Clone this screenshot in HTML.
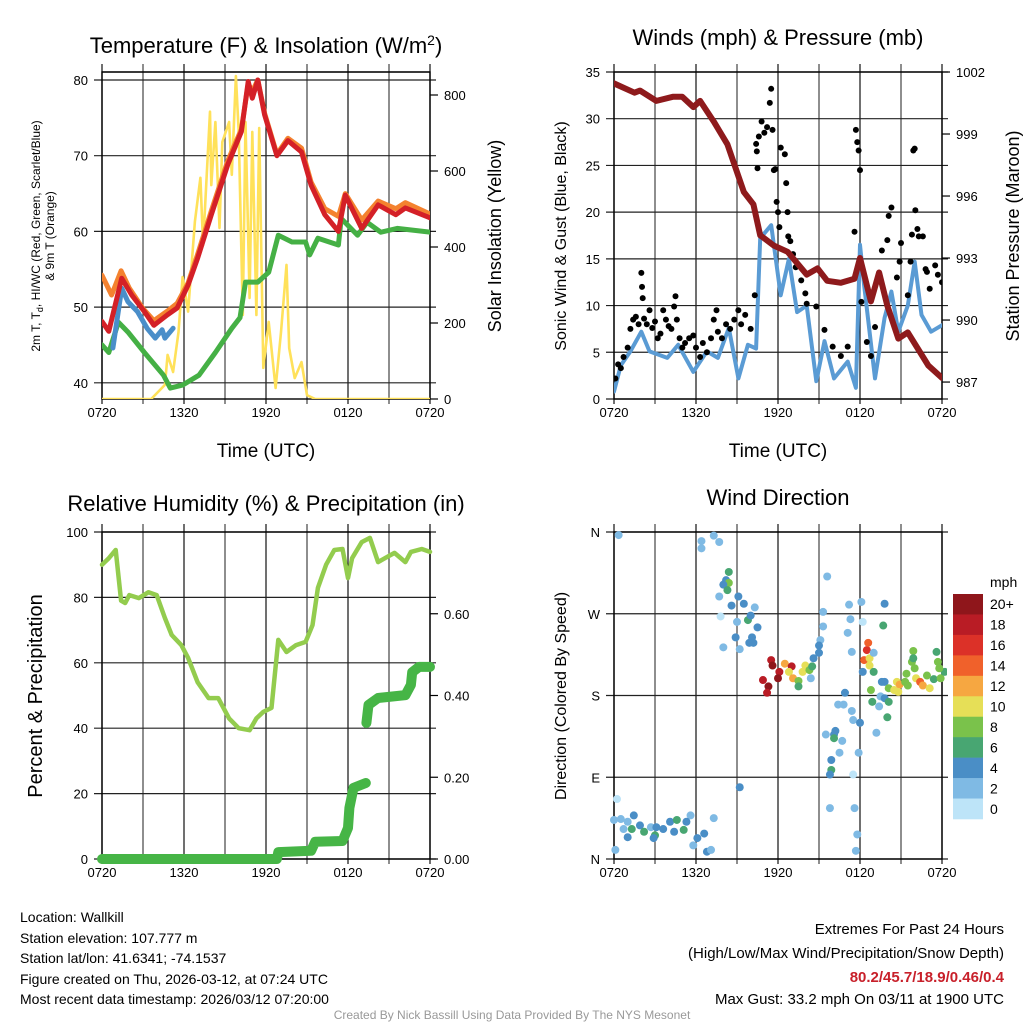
<!DOCTYPE html>
<html><head><meta charset="utf-8"><style>
html,body{margin:0;padding:0;background:#fff;}
svg{display:block;font-family:"Liberation Sans",sans-serif;}
</style></head><body>
<svg id="fig" width="1024" height="1024" viewBox="0 0 1024 1024" xmlns="http://www.w3.org/2000/svg">
<defs>
<clipPath id="c1"><rect x="102" y="72" width="328" height="327"/></clipPath>
<clipPath id="c2"><rect x="614" y="72" width="328" height="327"/></clipPath>
<clipPath id="c3"><rect x="97" y="527" width="338" height="337"/></clipPath>
<clipPath id="c4"><rect x="609" y="527" width="338" height="337"/></clipPath>
</defs>
<text x="266" y="53" font-size="22" text-anchor="middle">Temperature (F) &amp; Insolation (W/m<tspan dy="-8" font-size="14">2</tspan><tspan dy="8">)</tspan></text>
<text x="778" y="45" font-size="22" text-anchor="middle">Winds (mph) &amp; Pressure (mb)</text>
<text x="266" y="511" font-size="22" text-anchor="middle">Relative Humidity (%) &amp; Precipitation (in)</text>
<text x="778" y="505" font-size="22" text-anchor="middle">Wind Direction</text>

<text transform="translate(40,236) rotate(-90)" font-size="12" text-anchor="middle">2m T, T<tspan dy="3" font-size="9">d</tspan><tspan dy="-3">, HI/WC (Red, Green, Scarlet/Blue)</tspan></text>
<text transform="translate(54,236) rotate(-90)" font-size="12" text-anchor="middle">&amp; 9m T (Orange)</text>
<text transform="translate(501,236) rotate(-90)" font-size="18" text-anchor="middle">Solar Insolation (Yellow)</text>
<text transform="translate(566,236) rotate(-90)" font-size="16" text-anchor="middle">Sonic Wind &amp; Gust (Blue, Black)</text>
<text transform="translate(1019,236) rotate(-90)" font-size="18" text-anchor="middle">Station Pressure (Maroon)</text>
<text transform="translate(42,696) rotate(-90)" font-size="20" text-anchor="middle">Percent &amp; Precipitation</text>
<text transform="translate(566,696) rotate(-90)" font-size="16" text-anchor="middle">Direction (Colored By Speed)</text>
<text x="266" y="457" font-size="19" text-anchor="middle">Time (UTC)</text>
<text x="778" y="457" font-size="19" text-anchor="middle">Time (UTC)</text>

<g font-size="14">
<text x="20" y="922">Location: Wallkill</text>
<text x="20" y="943">Station elevation: 107.777 m</text>
<text x="20" y="963">Station lat/lon: 41.6341; -74.1537</text>
<text x="20" y="984">Figure created on Thu, 2026-03-12, at 07:24 UTC</text>
<text x="20" y="1004">Most recent data timestamp: 2026/03/12 07:20:00</text>
</g>
<g font-size="15" text-anchor="end">
<text x="1004" y="934">Extremes For Past 24 Hours</text>
<text x="1004" y="958">(High/Low/Max Wind/Precipitation/Snow Depth)</text>
<text x="1004" y="982" fill="#c8202a" font-weight="bold">80.2/45.7/18.9/0.46/0.4</text>
<text x="1004" y="1004">Max Gust: 33.2 mph On 03/11 at 1900 UTC</text>
</g>
<text x="512" y="1019" font-size="12" fill="#999" text-anchor="middle">Created By Nick Bassill Using Data Provided By The NYS Mesonet</text>
</svg>
<script>
// ---------- DATA ----------
const timeLabels = ["0720","1320","1920","0120","0720"];
const tempTicks = [40,50,60,70,80];
const solarTicks = [0,200,400,600,800];
const windTicks = [0,5,10,15,20,25,30,35];
const presTicks = [987,990,993,996,999,1002];
const rhTicks = [0,20,40,60,80,100];
const precipTicks = [0.00,0.20,0.40,0.60];
const dirTicks = [0,90,180,270,360];
const dirLabels = ["N","E","S","W","N"];
const speedBins = ["0","2","4","6","8","10","12","14","16","18","20+"];

const redT = [0,0.5,1.44,2.17,3.1,3.8,4.8,5.5,6.3,7.0,8.0,9.2,10.2,10.7,11.0,11.4,11.9,12.8,13.6,14.6,15.3,16.3,17.3,17.8,19.0,20.2,21.5,22.2,24];
const redV = [48.1,46.8,53.8,51.6,49.4,47.6,49,49.9,52.9,56.5,62.2,68.8,73.2,79.8,77.6,80,75.4,70,72,70.5,66.1,62.2,60,64.8,60.4,63.5,62.2,63.1,61.8];
const orangeT = [0,0.7,1.4,2,3,3.8,4.8,5.5,6.3,7,8,9.2,10.2,10.7,11,11.4,11.9,12.8,13.6,14.6,15.3,16.3,17.3,17.8,19,20.2,21.5,22.2,24];
const orangeV = [54.2,51.6,54.8,52.5,49.8,48.2,49.5,50.5,53.2,57,62.7,69.3,73.5,79.5,78.5,80,75.6,70.2,72.3,71,66.5,63,62,65,61.5,64,63,63.8,62.3];
const blueT = [0.8,1.44,1.9,2.6,3.3,3.9,4.4,4.6,5.2];
const blueV = [44.6,52.5,50.7,49.4,47.2,45.9,47,45.9,47.2];
const greenT = [0,0.5,1.2,1.9,3.1,4.5,5,5.9,7.1,8.3,9.5,10.1,10.5,11.4,12.2,12.9,13.9,14.9,15.2,15.8,17.3,17.5,18.7,19.4,20.4,21.6,24];
const greenV = [45,44,48,46.7,44,41,39.3,39.7,41,44,47.2,48.6,53.3,53.3,54.6,59.5,58.6,58.6,56.9,59.1,58.2,61.7,59.5,61.2,59.9,60.4,59.9];
const solarT = [0,3.6,4.6,4.8,5.2,5.6,5.9,6.3,6.8,7.2,7.4,7.9,8.0,8.3,8.6,8.8,9.3,9.5,9.8,10.0,10.3,10.5,10.8,11.0,11.3,11.5,11.8,12.2,12.7,13.1,13.5,13.7,14.1,14.6,15.0,15.6,24];
const solarV = [0,0,37,116,71,176,321,230,467,582,405,756,563,729,450,676,729,590,850,703,221,729,266,703,221,713,82,203,29,176,353,134,55,97,10,0,0];

const presT = [0,1.5,1.9,3.1,4.3,5.0,5.8,6.3,7.3,8.3,9.5,10.2,10.7,11.7,12.7,14.1,14.9,15.6,16.6,17.6,18.0,18.8,19.4,20.0,20.8,21.5,23,24];
const presV = [1001.45,1001,1001.1,1000.6,1000.8,1000.8,1000.3,1000.6,999.6,998.5,996.2,995.6,994.1,993.6,993.3,992.2,992.5,991.9,991.8,992,993,990.9,992.3,990.7,989.1,989.4,987.8,987.2];
const windT = [0,0.5,1.2,2.0,2.6,3.9,4.7,5.8,6.8,7.6,8.4,9.1,9.8,10.4,10.7,11.5,12.2,12.8,13.4,14.1,14.8,15.4,16.1,17.1,17.7,18.0,18.3,19.1,19.8,20.3,20.8,21.5,22.0,22.5,23.2,24];
const windV = [0.8,3.6,5.1,7.2,5.1,4.4,5.8,2.9,5.1,4.4,7.6,2.2,5.8,5.4,17.2,18.6,11.1,15,9.3,10,1.9,6.2,2.2,4,1.2,16.5,12.2,2.2,8.7,11.5,7.2,10,14.7,9,7.2,7.9];
const gustT = [0.1,0.3,0.5,0.7,1.0,1.2,1.4,1.6,1.8,2.0,2.05,2.1,2.2,2.4,2.6,2.8,3.0,3.2,3.4,3.6,3.8,4.0,4.2,4.4,4.5,4.6,4.8,5.0,5.2,5.5,5.8,6.0,6.3,6.5,6.8,7.1,7.3,7.5,7.6,7.9,8.2,8.5,8.8,9.1,9.3,9.6,10.0,10.3,10.4,10.45,10.5,10.6,10.8,11.0,11.2,11.4,11.5,11.6,11.7,11.8,11.9,12.0,12.1,12.2,12.5,12.6,12.7,12.75,12.9,13.1,13.3,13.7,14.0,14.1,14.8,15.4,16.0,16.6,17.1,17.6,17.7,17.8,17.9,18.0,18.1,18.5,18.8,19.1,19.6,20.0,20.1,20.3,20.7,20.9,21.0,21.5,21.7,21.8,21.9,22.0,22.05,22.2,22.3,22.6,22.8,22.9,23.1,23.5,23.7,24];
const gustV = [2.2,3.7,3.3,4.5,5.5,7.5,8.5,8.8,8.0,13.5,12,10.8,8.6,8.0,9.5,7.6,8.3,6.5,7.0,9.5,8.5,7.8,7.5,9.9,11,8.5,6.5,5.5,6.0,6.5,6.8,5.5,4.5,6.0,5.0,6.5,8.5,9.5,7.2,6.5,8.0,7.5,8.5,9.5,8.0,9.0,7.5,11.1,27.3,26.5,24.7,28.1,29.7,28.5,29.1,31.7,33.2,28.8,24.5,24.6,21.1,20,18.4,26.9,26.2,23.1,20,17.4,16.9,15.5,14.1,12.7,11.3,10.2,9.9,7.4,5.6,4.6,5.6,17.9,28.8,27.5,26.6,24.5,10.4,6.1,4.6,7.7,15.9,17.0,19.6,20.5,13.0,14.7,16.7,11.1,14.7,17.6,26.6,26.8,20.2,18.2,17.4,17.4,13.9,13.6,11.8,14.3,13.3,12.5];

const rhT = [0,0.5,1.0,1.4,1.7,2.0,2.7,3.4,4.0,4.6,5.1,5.8,6.3,7.0,7.8,8.5,9.3,10.0,10.8,11.3,11.8,12.4,12.9,13.5,14.2,14.9,15.4,15.8,16.4,17.0,17.6,18.0,18.3,19.0,19.6,20.2,20.7,21.4,22.2,22.6,23.4,24];
const rhV = [90,92,94.5,79,78.3,80.7,79.8,81.6,80.7,73.7,68.5,65.4,61.5,54,49.2,49.2,43,40,39.4,43,45,46.2,67,63.3,65.4,66.4,71.5,82.9,90,94.5,94.8,85.9,92,96.9,98.2,90.8,92,93.6,90.8,93.9,94.8,93.9];
const precipT = [0,12.8,12.9,15.3,15.6,17.6,18.0,18.1,18.4,19.3,19.35,19.5,20.2,22.2,22.6,22.7,23.2,24];
const precipV = [0,0,0.017,0.02,0.042,0.044,0.076,0.125,0.174,0.186,0.333,0.377,0.394,0.401,0.426,0.457,0.47,0.47];

const dirT = [0.34,0.22,0,0.5,1,1.45,0.7,1.3,1.9,2.2,2.7,3.1,3.0,3.6,4.1,4.6,4.4,5.1,5.6,5.3,6.1,5.8,6.6,6.8,7.3,7.1,0.1,1,2.9,
 6.4,7.3,7.7,6.4,8.4,8.2,8.4,8.0,8.3,7.7,9.1,7.8,8.6,9.5,10.3,9.8,9.0,10,10.5,8.9,10.1,8.0,9.2,9.9,10.2,9.2,
 11.5,11.6,10.9,11.3,11.2,12.1,12.0,12.5,13.0,12.8,13.1,13.5,13.5,13.8,14.0,14.3,14.5,14.6,15.0,15.1,15.0,15.3,15.3,15.6,14.4,
 15.5,16.1,16.2,16.1,16.7,16.5,16.4,16.8,16.9,17.4,17.5,18.0,17.9,17.5,15.9,15.9,15.8,15.8,17.6,17.8,17.7,17.2,17.3,17.1,17.4,18.1,18.2,18.2,19.2,
 18.5,18.6,18.3,18.7,18.7,19.0,19.0,18.8,18.9,19.6,19.8,19.5,19.4,19.8,20.1,20.0,19.8,19.7,20.1,20.5,20.7,20.9,20.8,21.3,21.4,21.5,21.8,21.9,22.0,22.1,22.4,22.6,22.9,23.1,23.4,23.6,23.7,23.9,24.2,23.8,21.9];
const dirV = [356.6,66,43,44,41,48,33,33,37,30,35,35,26,33,41,43,30,32,48,41,23,15,28,8,45,10,10,24,23,
 350,356,349,342,316,307,304,302,296,289,289,267,279,281,277,263,261,268,255,244,244,233,231,238,238,79,
 219,213,197,190,183,206,199,215,212,206,199,196,190,206,213,208,212,221,227,241,235,256,272,311,199,
 137,137,141,133,130,117,170,170,183,163,153,150,117,93,109,98,93,56,56,27,9,280,264,249,228,283,261,206,139,
 230,238,219,221,213,206,227,186,173,195,195,179,168,177,173,156,281,257,188,186,195,192,184,195,204,191,217,229,210,199,195,191,202,188,198,228,217,199,206,210,221];
const dirS = [2,0,2,2,3,4,2,6,4,6,3,4,6,4,4,6,4,6,2,4,4,2,4,4,2,2,2,4,4,
 2,2,2,2,6,4,8,4,6,2,4,0,4,4,2,6,2,4,4,4,4,2,2,4,4,4,
 18,20,18,20,18,18,20,12,18,10,12,8,6,10,10,8,6,4,4,2,4,2,2,2,2,
 2,4,4,6,2,2,2,2,4,2,2,4,2,0,4,6,4,2,2,2,2,2,2,2,2,2,0,4,2,
 16,14,14,10,10,6,2,8,6,4,4,2,2,4,6,6,4,6,8,10,10,12,10,8,8,8,8,8,8,10,14,12,8,10,6,6,8,8,6,8,6];

// ---------- HELPERS ----------
const NS = "http://www.w3.org/2000/svg";
const svg = document.getElementById("fig");
function mk(tag, attrs, parent){
  const e = document.createElementNS(NS, tag);
  for (const k in attrs) e.setAttribute(k, attrs[k]);
  (parent || svg).appendChild(e);
  return e;
}
function txt(x, y, s, size, anchor, parent){
  const t = mk("text", {x:x, y:y, "font-size":size, "text-anchor":anchor}, parent);
  t.textContent = s;
  return t;
}
function xs(p, h){ return p.x0 + h / 24 * p.w; }
function pathD(T, V, fx, fy, brk){
  let d = "";
  for (let i = 0; i < T.length; i++){
    const cmd = (i === 0 || (brk && Math.abs(V[i] - V[i-1]) > brk)) ? "M" : "L";
    d += cmd + fx(T[i]).toFixed(1) + "," + fy(V[i]).toFixed(1);
  }
  return d;
}

const P1 = {x0:102, y0:72, w:328, h:327};
const P2 = {x0:614, y0:72, w:328, h:327};
const P3 = {x0:102, y0:532, w:328, h:327};
const P4 = {x0:614, y0:532, w:328, h:327};

const tY = v => 80 + (80 - v) * 7.57;
const sY = v => 399 - v * 0.38;
const wY = v => 399 - v * 9.343;
const pY = v => 72 + (1002 - v) * 20.67;
const rY = v => 859 - v * 3.27;
const qY = v => 859 - v * 408.75;
const dY = v => 859 - v * 327 / 360;

function frame(p, name, hvals, fy, extraTop){
  const g = mk("g", {});
  
  
  for (let k = 0; k <= 8; k++){
    const x = p.x0 + k * p.w / 8;
    mk("line", {x1:x, y1:p.y0 - 8, x2:x, y2:p.y0 + p.h + 5, stroke: (k % 2 ? "#444" : "#111"), "stroke-width":1.2}, g);
  }
  hvals.forEach(v => {
    const y = fy(v);
    mk("line", {x1:p.x0 - 8, y1:y, x2:p.x0 + p.w + 6, y2:y, stroke:"#222", "stroke-width":1.2}, g);
  });
  if (extraTop) mk("line", {x1:p.x0, y1:p.y0, x2:p.x0 + p.w, y2:p.y0, stroke:"#111", "stroke-width":1.2}, g);
  mk("rect", {x:p.x0, y:p.y0, width:p.w, height:p.h, fill:"none", stroke:"#000", "stroke-width":1.4}, g);
  timeLabels.forEach((s, i) => {
    const t = txt(p.x0 + i * p.w / 4, p.y0 + p.h + 18, s, 13, "middle", g);
    
    
  });
  return g;
}
function leftTicks(p, vals, labels, fy, g){
  vals.forEach((v, i) => {
    const t = txt(p.x0 - 14, fy(v) + 5, labels[i], 13, "end", g);
    
    
  });
}
function rightTicks(p, vals, labels, fy, g){
  vals.forEach((v, i) => {
    const y = fy(v);
    mk("line", {x1:p.x0 + p.w, y1:y, x2:p.x0 + p.w + 8, y2:y, stroke:"#000", "stroke-width":1.2}, g);
    const t = txt(p.x0 + p.w + 14, y + 5, labels[i], 13, "start", g);
    
    
  });
}

// ---------- PANEL 1: TEMPERATURE ----------
const g1 = frame(P1, "temperature", tempTicks, tY, true);
leftTicks(P1, tempTicks, tempTicks.map(String), tY, g1);
rightTicks(P1, solarTicks, solarTicks.map(String), sY, g1);
const d1 = mk("g", {"clip-path":"url(#c1)", fill:"none", "stroke-linejoin":"round", "stroke-linecap":"round"});
const fx1 = h => xs(P1, h);
let e;
e = mk("path", {d:pathD(solarT, solarV, fx1, sY), stroke:"#ffe15a", "stroke-width":2.6}, d1);


e = mk("path", {d:pathD(greenT, greenV, fx1, tY), stroke:"#45b045", "stroke-width":5}, d1);


e = mk("path", {d:pathD(blueT, blueV, fx1, tY), stroke:"#4a8ec9", "stroke-width":5}, d1);


e = mk("path", {d:pathD(orangeT, orangeV, fx1, tY), stroke:"#f4822f", "stroke-width":5}, d1);


e = mk("path", {d:pathD(redT, redV, fx1, tY), stroke:"#d42027", "stroke-width":5}, d1);



// ---------- PANEL 2: WINDS ----------
const g2 = frame(P2, "winds", windTicks, wY, false);
leftTicks(P2, windTicks, windTicks.map(String), wY, g2);
rightTicks(P2, presTicks, presTicks.map(String), pY, g2);
const d2 = mk("g", {"clip-path":"url(#c2)", fill:"none", "stroke-linejoin":"round", "stroke-linecap":"round"});
const fx2 = h => xs(P2, h);
e = mk("path", {d:pathD(windT, windV, fx2, wY), stroke:"#5a9bd4", "stroke-width":4}, d2);


gustT.forEach((t, i) => {
  const c = mk("circle", {cx:fx2(t), cy:wY(gustV[i]), r:3, fill:"#000"}, d2);
  
  
});
e = mk("path", {d:pathD(presT, presV, fx2, pY), stroke:"#8e1a1c", "stroke-width":6}, d2);



// ---------- PANEL 3: HUMIDITY ----------
const g3 = frame(P3, "humidity", rhTicks, rY, false);
leftTicks(P3, rhTicks, rhTicks.map(String), rY, g3);
rightTicks(P3, precipTicks, precipTicks.map(v => v.toFixed(2)), qY, g3);
const d3 = mk("g", {"clip-path":"url(#c3)", fill:"none", "stroke-linejoin":"round", "stroke-linecap":"round"});
const fx3 = h => xs(P3, h);
e = mk("path", {d:pathD(rhT, rhV, fx3, rY), stroke:"#93cc4e", "stroke-width":4.5}, d3);


e = mk("path", {d:pathD(precipT, precipV, fx3, qY, 0.1), stroke:"#46b546", "stroke-width":10}, d3);



// ---------- PANEL 4: WIND DIRECTION ----------
const g4 = frame(P4, "wind-direction", dirTicks, dY, false);
leftTicks(P4, dirTicks, dirLabels, dY, g4);
const binColors = ["#bde4f8","#7fbae4","#4a8ec6","#48a672","#7ac24b","#e6df57","#f6a741","#f0612b","#dc3128","#b91c25","#8f161b"];
const d4 = mk("g", {"clip-path":"url(#c4)"});
const fx4 = h => xs(P4, h);
dirT.forEach((t, i) => {
  const bin = Math.min(10, Math.max(0, Math.floor(dirS[i] / 2)));
  const c = mk("circle", {cx:fx4(t), cy:dY(dirV[i]), r:4, fill:binColors[bin]}, d4);
  
  
});
const cb = mk("g", {});


const cbTop = 594, cbH = 225 / 11;
speedBins.forEach((s, i) => {
  const k = 10 - i;
  const y = cbTop + i * cbH;
  mk("rect", {x:953, y:y, width:30, height:cbH + 0.3, fill:binColors[10 - i]}, cb);
  const t = txt(990, y + cbH / 2 + 5, speedBins[10 - i], 14, "start", cb);
  
  
});
const mph = txt(990, 587, "mph", 14, "start", cb);


</script>
</body></html>
